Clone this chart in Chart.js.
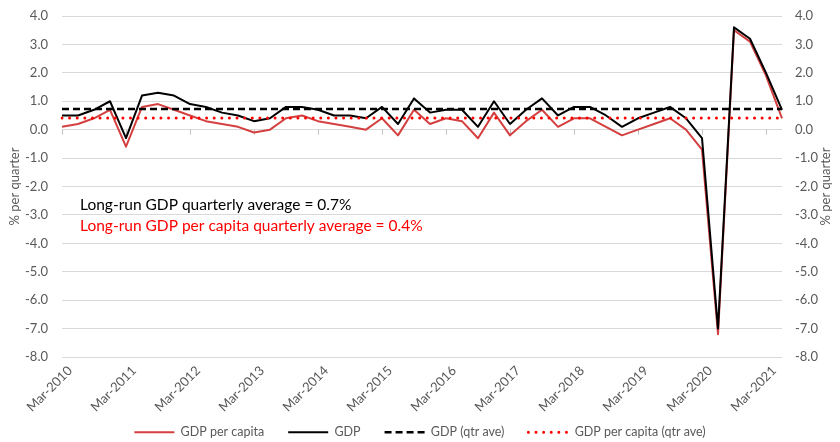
<!DOCTYPE html>
<html>
<head>
<meta charset="utf-8">
<script src="https://cdn.jsdelivr.net/npm/chart.js@4"></script>
<style>
  html, body { margin: 0; padding: 0; background: #fff; }
  #wrap { width: 840px; height: 442px; }
</style>
</head>
<body>
<div id="wrap"><canvas id="gdpChart" width="840" height="442"></canvas></div>
<script>
// quarterly growth, Mar-2010 .. Jun-2021
var years = [2010, 2011, 2012, 2013, 2014, 2015, 2016, 2017, 2018, 2019, 2020, 2021];
var months = ['Mar', 'Jun', 'Sep', 'Dec'];
var quarters = [];
years.forEach(function (y) {
    months.forEach(function (m) { quarters.push(m + '-' + y); });
});
quarters = quarters.slice(0, 46);

var gdpPerCapita = [0.1, 0.2, 0.4, 0.7, -0.6, 0.8, 0.9, 0.7, 0.5, 0.3, 0.2, 0.1, -0.1, 0.0, 0.4, 0.5,
    0.3, 0.2, 0.1, 0.0, 0.4, -0.2, 0.7, 0.2, 0.4, 0.3, -0.3, 0.6, -0.2, 0.3, 0.7, 0.1,
    0.4, 0.4, 0.1, -0.2, 0.0, 0.2, 0.4, 0.0, -0.7, -7.2, 3.5, 3.1, 1.9, 0.4];
var gdp = [0.5, 0.5, 0.7, 1.0, -0.3, 1.2, 1.3, 1.2, 0.9, 0.8, 0.6, 0.5, 0.3, 0.4, 0.8, 0.8,
    0.7, 0.5, 0.5, 0.4, 0.8, 0.2, 1.1, 0.6, 0.7, 0.7, 0.1, 1.0, 0.2, 0.7, 1.1, 0.5,
    0.8, 0.8, 0.5, 0.1, 0.4, 0.6, 0.8, 0.4, -0.3, -7.0, 3.6, 3.2, 2.0, 0.7];
var gdpAve = 0.73;
var gdpPerCapitaAve = 0.41;

var noteGdp = 'Long-run GDP quarterly average = 0.7%';
var notePerCapita = 'Long-run GDP per capita quarterly average = 0.4%';
var axisTitle = '% per quarter';

var FONT = 'Lato';
var GREY = '#595959';

// tick marks on the zero line, the two notes and the right-hand title
var extras = {
    id: 'extras',
    afterLayout: function (chart) {
        // let the slanted date labels run down into the legend band without being clipped
        chart.scales.x.bottom = chart.height;
    },
    beforeDatasetsDraw: function (chart) {
        var c = chart.ctx, xs = chart.scales.x, ys = chart.scales.y;
        var y0 = ys.getPixelForValue(0);
        c.save();
        c.strokeStyle = '#bfbfbf';
        c.lineWidth = 1;
        for (var i = 0; i < quarters.length; i += 4) {
            var x = Math.round(xs.getPixelForValue(i)) + 0.5;
            c.beginPath();
            c.moveTo(x, y0);
            c.lineTo(x, y0 + 5);
            c.stroke();
        }
        c.restore();
    },
    afterDraw: function (chart) {
        var c = chart.ctx, area = chart.chartArea;
        c.save();
        c.font = '15.5px ' + FONT;
        c.textBaseline = 'middle';
        c.fillStyle = '#000';
        c.fillText(noteGdp, 80, 205);
        c.fillStyle = '#ff0000';
        c.fillText(notePerCapita, 80, 226);

        c.translate(826, (area.top + area.bottom) / 2);
        c.rotate(-Math.PI / 2);
        c.font = '13px ' + FONT;
        c.fillStyle = GREY;
        c.textAlign = 'center';
        c.fillText(axisTitle, 0, 0);
        c.restore();
    }
};

function fixYAxis(width) {
    return function (s) {
        s.width = width;
        s.paddingTop = 0;
        s.paddingBottom = 0;
    };
}

var ctx = document.getElementById('gdpChart');
var chart = new Chart(ctx, {
    type: 'line',
    data: {
        labels: quarters,
        datasets: [{
            label: 'GDP per capita',
            data: gdpPerCapita,
            borderColor: '#d43f3f',
            borderWidth: 2,
            order: 3
        }, {
            label: 'GDP',
            data: gdp,
            borderColor: '#000000',
            borderWidth: 2,
            order: 2
        }, {
            label: 'GDP (qtr ave)',
            data: quarters.map(function () { return gdpAve; }),
            borderColor: '#000000',
            borderWidth: 2.5,
            borderDash: [7, 4],
            order: 1
        }, {
            label: 'GDP per capita (qtr ave)',
            data: quarters.map(function () { return gdpPerCapitaAve; }),
            borderColor: '#ff0000',
            borderWidth: 3,
            borderDash: [0.01, 7.6],
            borderCapStyle: 'round',
            order: 0
        }]
    },
    options: {
        responsive: false,
        animation: false,
        layout: { padding: { top: 16, left: 0, right: 0, bottom: 0 } },
        elements: {
            point: { radius: 0 },
            line: { tension: 0, borderJoinStyle: 'round', fill: false }
        },
        plugins: {
            tooltip: { enabled: false },
            legend: {
                position: 'bottom',
                maxHeight: 40,
                labels: {
                    usePointStyle: true,
                    pointStyleWidth: 40,
                    boxHeight: 12,
                    padding: 24,
                    color: GREY,
                    font: { family: FONT, size: 12.5 },
                    generateLabels: function (chart) {
                        return chart.data.datasets.map(function (ds, i) {
                            return {
                                text: ds.label,
                                fillStyle: ds.borderColor,
                                strokeStyle: ds.borderColor,
                                lineWidth: ds.borderWidth,
                                lineDash: ds.borderDash || [],
                                lineCap: ds.borderCapStyle || 'butt',
                                pointStyle: 'line',
                                fontColor: GREY,
                                hidden: false,
                                datasetIndex: i
                            };
                        });
                    }
                }
            }
        },
        scales: {
            x: {
                offset: false,
                grid: { display: false },
                border: { display: false },
                ticks: {
                    autoSkip: false,
                    maxRotation: 45,
                    minRotation: 45,
                    color: GREY,
                    font: { family: FONT, size: 13 },
                    padding: -2,
                    labelOffset: 8,
                    callback: function (v, i) { return i % 4 === 0 ? quarters[i] : ''; }
                },
                afterFit: function (s) { s.height = 45; }
            },
            y: {
                position: 'left',
                min: -8,
                max: 4,
                grid: { color: '#d9d9d9', drawTicks: false },
                border: { display: false },
                ticks: {
                    stepSize: 1,
                    padding: 14,
                    color: GREY,
                    font: { family: FONT, size: 13 },
                    callback: function (v) { return v.toFixed(1); }
                },
                title: {
                    display: true,
                    text: axisTitle,
                    color: GREY,
                    font: { family: FONT, size: 13 },
                    padding: { top: 7, bottom: 4 }
                },
                afterFit: fixYAxis(62)
            },
            y2: {
                position: 'right',
                min: -8,
                max: 4,
                grid: { display: false, drawTicks: false },
                border: { display: false },
                ticks: {
                    stepSize: 1,
                    padding: 13,
                    color: GREY,
                    font: { family: FONT, size: 13 },
                    callback: function (v) { return v.toFixed(1); }
                },
                afterFit: fixYAxis(58)
            }
        }
    },
    plugins: [extras]
});
</script>
</body>
</html>
